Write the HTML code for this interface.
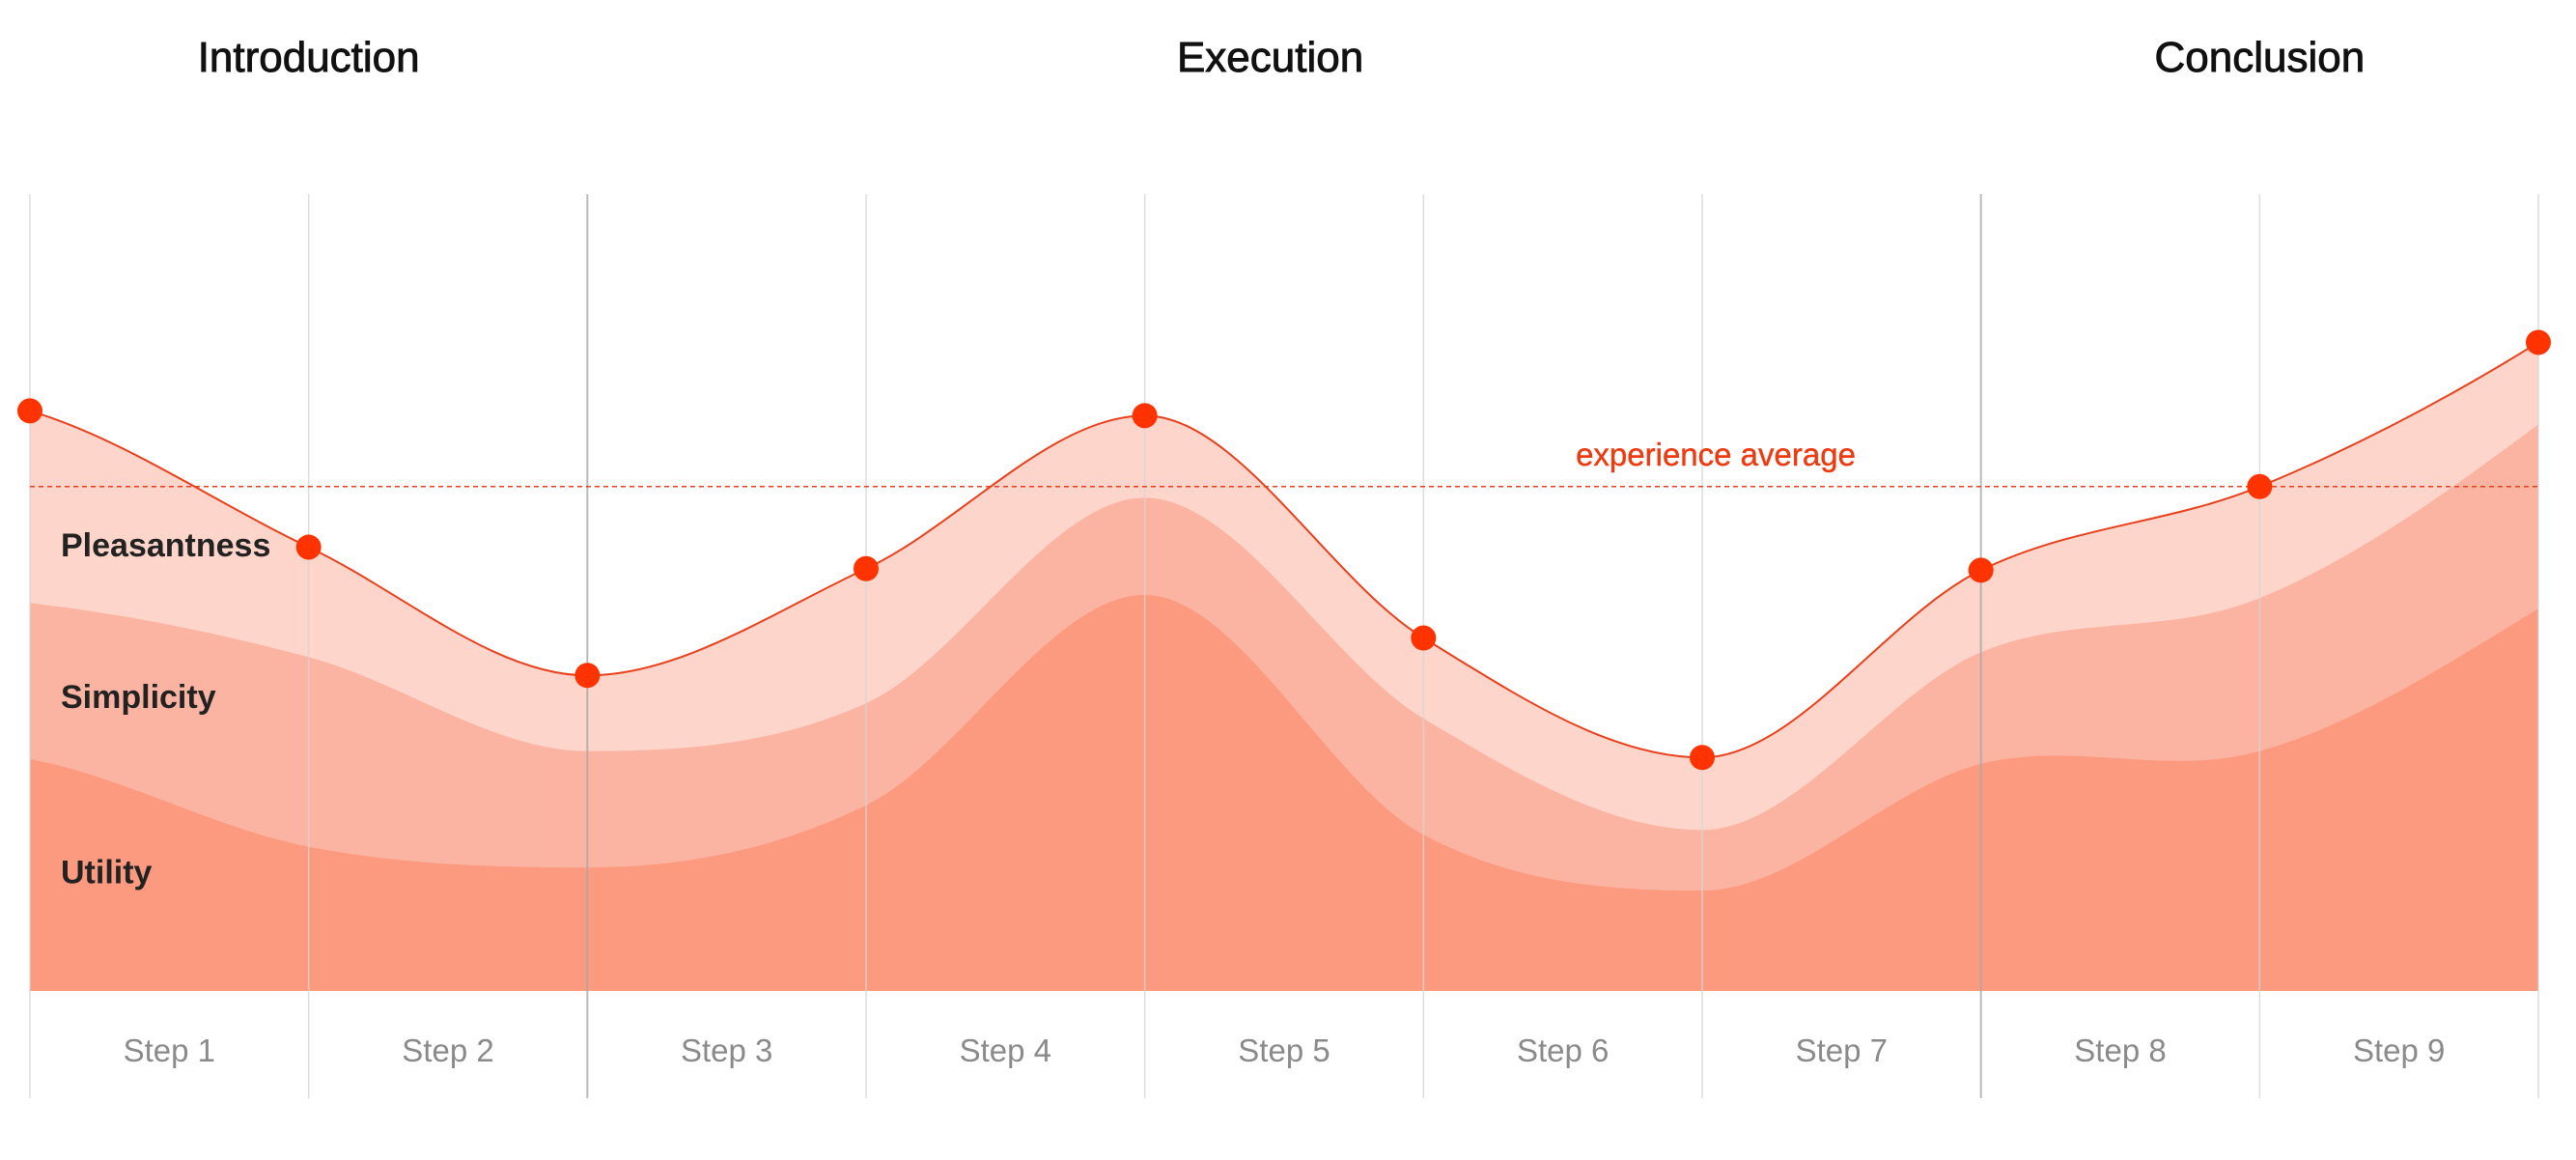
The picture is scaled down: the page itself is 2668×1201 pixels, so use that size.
<!DOCTYPE html>
<html><head><meta charset="utf-8"><style>
html,body{margin:0;padding:0;background:#fff;}
svg{display:block;font-family:"Liberation Sans",sans-serif;}
</style></head><body>
<svg id="chart" width="2668" height="1201" viewBox="0 0 2668 1201"></svg>
<script>
const steps=["Step 1","Step 2","Step 3","Step 4","Step 5","Step 6","Step 7","Step 8","Step 9"];
const phases=["Introduction","Execution","Conclusion"];
const phaseCenters=[1,4.45,8];
const pleasantness=[72.8,55.7,39.6,53,72.2,44.3,29.3,52.8,63.3,81.4];
const simplicity=[48.7,41.9,30.1,36.1,61.9,34.2,20.2,42.5,49.3,71.1];
const utility=[29.1,18.1,15.5,23.3,49.7,19.6,12.6,28.5,30.1,48.0];
const average=[63.3];
const layerNames=["Pleasantness","Simplicity","Utility"];
const layerLabelVals=[56,37,15];

const NS="http://www.w3.org/2000/svg";
const svg=document.getElementById('chart');
const X0=31,X1=2629,YT=201,YB=1026;
const xs=i=>X0+(X1-X0)*i/9;
const ys=v=>YB-(YB-YT)*v/100;
function mk(t,a,p){const e=document.createElementNS(NS,t);for(const k in a)e.setAttribute(k,a[k]);(p||svg).appendChild(e);return e;}
function monotone(vals){
  const n=vals.length,P=vals.map((v,i)=>[xs(i),ys(v)]);
  const d=[],m=[];
  for(let i=0;i<n-1;i++)d.push((P[i+1][1]-P[i][1])/(P[i+1][0]-P[i][0]));
  for(let i=0;i<n;i++){
    if(i==0)m.push(d[0]*0.6);else if(i==n-1)m.push(d[n-2]*1.2);
    else m.push(d[i-1]*d[i]<=0?0:(d[i-1]+d[i])/2);
  }
  let s="M"+P[0][0]+","+P[0][1];
  for(let i=0;i<n-1;i++){const h=(P[i+1][0]-P[i][0])/3;
    s+=" C"+(P[i][0]+h)+","+(P[i][1]+m[i]*h)+" "+(P[i+1][0]-h)+","+(P[i+1][1]-m[i+1]*h)+" "+P[i+1][0]+","+P[i+1][1];}
  return s;
}
const areaPath=v=>monotone(v)+" L"+X1+","+YB+" L"+X0+","+YB+" Z";

let e;
e=mk('path',{d:areaPath(pleasantness),fill:'#fdd5ca'});

e=mk('path',{d:areaPath(simplicity),fill:'#fcb4a2'});

e=mk('path',{d:areaPath(utility),fill:'#fc9a80'});


for(let i=0;i<=9;i++){
  const dark=(i==2||i==7);
  e=mk('line',{x1:xs(i),x2:xs(i),y1:YT,y2:1137,stroke:dark?'#a8a8a8':'#d4d4d4','stroke-width':dark?2:1.5,'stroke-opacity':0.8});
  
}
steps.forEach((s,i)=>{
  e=mk('text',{x:(xs(i)+xs(i+1))/2,y:1099,'text-anchor':'middle','font-size':33,fill:'#8a8a8a'});
  e.textContent=s;
  
});
phases.forEach((p,i)=>{
  e=mk('text',{x:xs(phaseCenters[i]),y:74,'text-anchor':'middle','font-size':44,fill:'#111',stroke:'#111','stroke-width':0.9});
  e.textContent=p;
  
});
e=mk('line',{x1:X0,x2:X1,y1:ys(average[0]),y2:ys(average[0]),stroke:'#e8401c','stroke-width':1.5,'stroke-dasharray':'5,4'});

e=mk('text',{x:1777,y:ys(average[0])-22,'text-anchor':'middle','font-size':33,fill:'#ee3a10',stroke:'#ee3a10','stroke-width':0.4});
e.textContent='experience average';

e=mk('path',{d:monotone(pleasantness),fill:'none',stroke:'#e8401c','stroke-width':2});

pleasantness.forEach((v,i)=>{
  e=mk('circle',{cx:xs(i),cy:ys(v),r:13,fill:'#ff3300'});
  
});
layerNames.forEach((n,i)=>{
  e=mk('text',{x:63,y:ys(layerLabelVals[i])+12,'font-size':34,'font-weight':'bold',fill:'#222'});
  e.textContent=n;
  
});
</script>
</body></html>
